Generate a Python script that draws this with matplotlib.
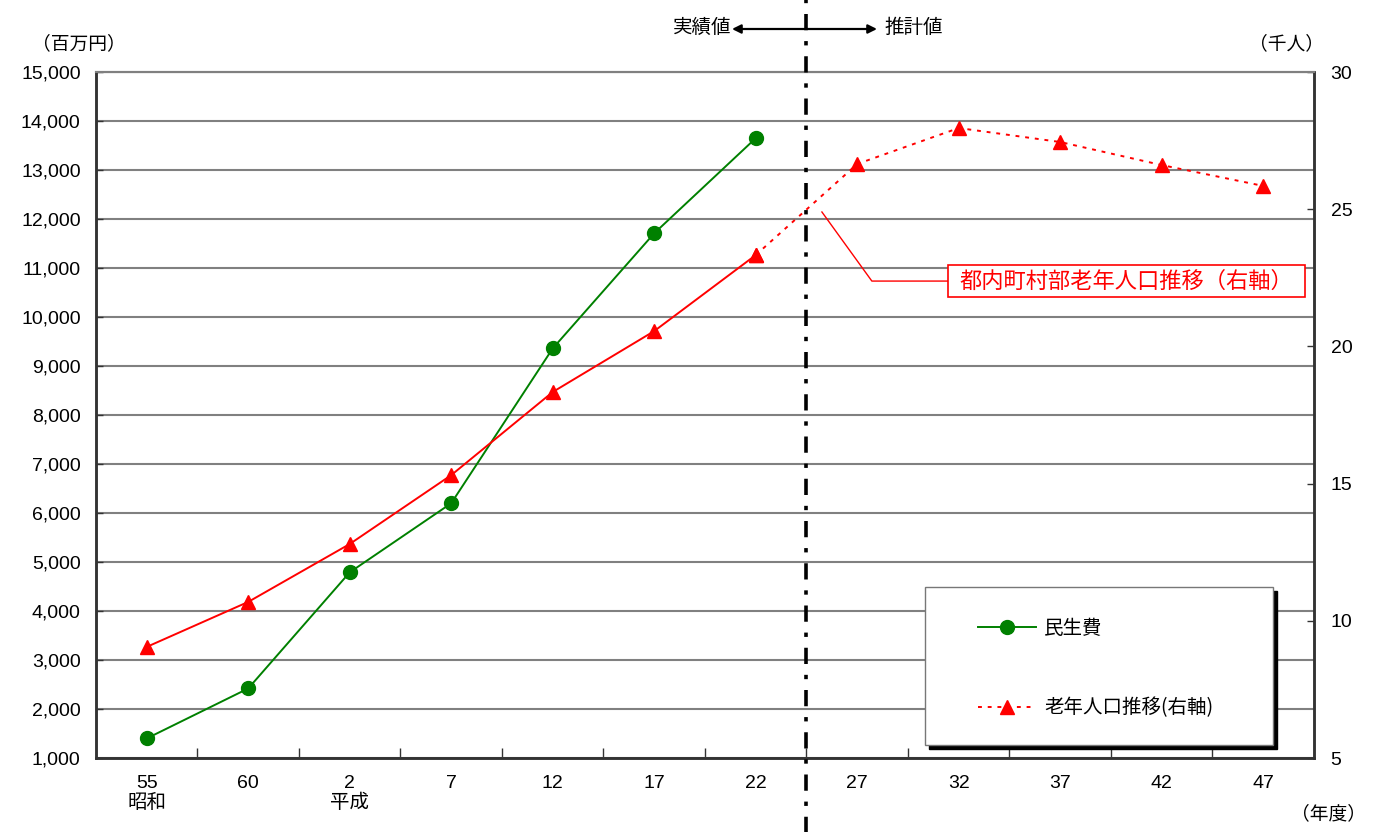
import matplotlib
matplotlib.use("Agg")
import matplotlib.pyplot as plt
from matplotlib.lines import Line2D
from matplotlib.patches import Rectangle

plt.rcParams['font.family'] = ['Liberation Sans', 'Noto Sans CJK JP', 'DejaVu Sans']
jp = ['Noto Sans CJK JP', 'DejaVu Sans']

# データ
years = ["55\n昭和", "60", "2\n平成", "7", "12", "17", "22", "27", "32", "37", "42", "47"]
minsei = [1400, 2420, 4790, 6200, 9360, 11710, 13650]          # 民生費（百万円）
rounen = [9.05, 10.69, 12.80, 15.31, 18.34, 20.56, 23.33,
          26.65, 27.96, 27.45, 26.61, 25.85]                     # 老年人口（千人）
n_actual = 7  # 実績値の数

x = list(range(len(years)))
dark = "#333333"
grid_c = "#808080"

fig = plt.figure(figsize=(13.89, 8.32), dpi=100)
ax = fig.add_axes([0.0691, 0.0889, 0.8769, 0.8245])
ax2 = ax.twinx()

# 左軸
ax.set_xlim(-0.5, len(years) - 0.5)
ax.set_ylim(1000, 15000)
ax.set_yticks(range(1000, 15001, 1000))
ax.set_yticklabels([f"{v:,}" for v in range(1000, 15001, 1000)], fontsize=14)
ax.grid(axis="y", color=grid_c, lw=1.5)
ax.set_axisbelow(True)
ax.set_xticks(x)
ax.set_xticklabels(years, fontsize=14, linespacing=1.15)
ax.set_xticks([i + 0.5 for i in x[:-1]], minor=True)
ax.tick_params(axis="x", which="major", length=0, pad=12)
ax.tick_params(axis="x", which="minor", direction="in", length=7, width=1, color=dark)
ax.tick_params(axis="y", direction="in", length=5, width=1, color=dark, pad=11)

# 右軸
ax2.set_ylim(5, 30)
ax2.set_yticks(range(5, 31, 5))
ax2.tick_params(axis="y", direction="in", length=5, width=1, color=dark, pad=12, labelsize=14)

for a in (ax, ax2):
    a.spines["top"].set_color(grid_c)
    a.spines["top"].set_linewidth(1.5)
    for s in ("left", "right", "bottom"):
        a.spines[s].set_color(dark)
        a.spines[s].set_linewidth(1.8)

# 民生費
ax.plot(x[:n_actual], minsei, color="#008000", lw=1.4, marker="o", ms=10, zorder=3)

# 老年人口（実績：実線、推計：点線）
ax2.plot(x[:n_actual], rounen[:n_actual], color="red", lw=1.4, marker="^", ms=10, zorder=3)
ax2.plot(x[n_actual - 1:], rounen[n_actual - 1:], color="red", lw=1.4,
         linestyle=(0, (2, 3)), marker="^", ms=10, zorder=3)

# 実績値／推計値の区切り線
ax2.axvline(n_actual - 0.5, ymin=-0.11, ymax=1.11, color="black", lw=2.6,
            linestyle=(0, (4.5, 3, 1.2, 3)), clip_on=False, zorder=4)

# 区切りの矢印
ax2.annotate("", xy=(732 / 1389, 1 - 29 / 832), xytext=(877 / 1389, 1 - 29 / 832),
             xycoords="figure fraction", textcoords="figure fraction",
             arrowprops=dict(arrowstyle="<|-|>", color="black", lw=1.6, mutation_scale=13,
                             shrinkA=0, shrinkB=0))
fig.text(731 / 1389, 1 - 27 / 832, "実績値", ha="right", va="center", fontsize=14, family=jp)
fig.text(884 / 1389, 1 - 27 / 832, "推計値", ha="left", va="center", fontsize=14, family=jp)

# 単位
fig.text(79 / 1389, 1 - 44 / 832, "（百万円）", ha="center", va="center", fontsize=13.5, family=jp)
fig.text(1287 / 1389, 1 - 44 / 832, "（千人）", ha="center", va="center", fontsize=13.5, family=jp)
fig.text(1328 / 1389, 1 - 814 / 832, "（年度）", ha="center", va="center", fontsize=13.5, family=jp)

# 注記（右軸）
ax2.plot([0.596, 0.637, 0.6995], [0.796, 0.6953, 0.6953], color="red", lw=1,
         transform=ax2.transAxes, zorder=5)
ax2.add_patch(Rectangle((0.6995, 0.672), 0.2931, 0.0466, transform=ax2.transAxes,
                        facecolor="white", edgecolor="red", lw=1.2, zorder=5))
ax2.text(0.846, 0.6953, "都内町村部老年人口推移（右軸）", transform=ax2.transAxes,
         ha="center", va="center", fontsize=16, color="red", zorder=6, family=jp)

# 凡例
box_x, box_y, box_w, box_h = 0.6806, 0.019, 0.2855, 0.2303
ax2.add_patch(Rectangle((box_x + 0.0033, box_y - 0.0058), box_w, box_h,
                        transform=ax2.transAxes, facecolor="black", edgecolor="black",
                        zorder=6, clip_on=False))
ax2.add_patch(Rectangle((box_x, box_y), box_w, box_h, transform=ax2.transAxes,
                        facecolor="white", edgecolor="#777777", lw=1, zorder=7, clip_on=False))
handles = [
    Line2D([], [], color="#008000", lw=1.4, marker="o", ms=10),
    Line2D([], [], color="red", lw=1.4, linestyle=(0, (2, 3)), marker="^", ms=10),
]
leg = ax2.legend(handles, ["民生費", "老年人口推移(右軸)"], loc="upper left",
                 bbox_to_anchor=(0.716, 0.218), frameon=False,
                 prop={"family": jp, "size": 14},
                 borderpad=0, handlelength=3.0, handletextpad=0.4, labelspacing=3.0,
                 numpoints=1)
leg.set_zorder(8)

plt.savefig("out.png", dpi=100)
plt.close()
